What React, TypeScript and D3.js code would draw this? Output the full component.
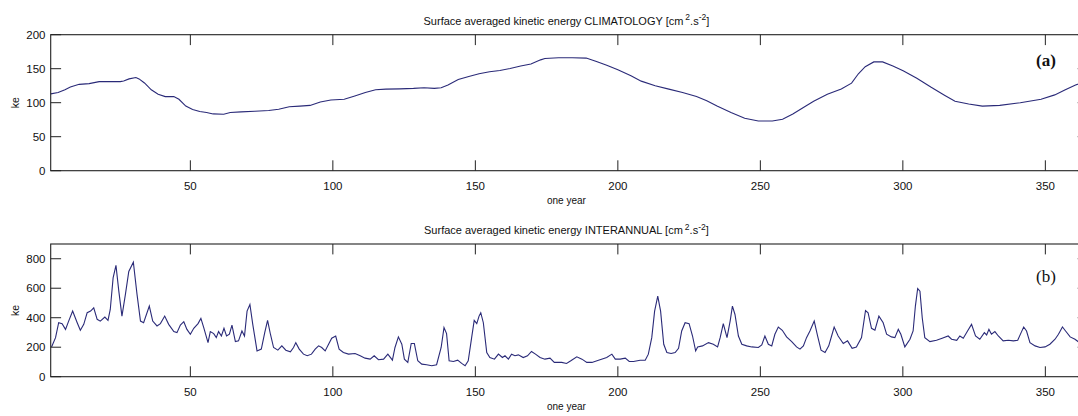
import React from "react";
import * as d3 from "d3";

// ---------- data ----------
const dayA = [1, 3.6, 6, 7.9, 11, 14.5, 18, 25.4, 26.6, 28.5, 30.9, 32, 33.9, 36.3, 38.7, 41.2, 44.2, 46, 48.4, 50.8, 53.3, 55.7, 58, 61.7, 64, 67.8, 72.6, 77.5, 81, 84.7, 88.4, 92, 95.6, 99.3, 104, 107.7, 111.4, 115, 118.6, 123.5, 128.3, 132, 135.6, 138, 140.4, 144, 147.7, 151.3, 155, 158.6, 162.2, 165.9, 169.5, 172.9, 174.4, 179.2, 184, 188.9, 192.5, 196.1, 200, 204.6, 208.2, 213.1, 217.9, 222.7, 227.6, 231.2, 234.8, 239.7, 244.5, 249.3, 254.2, 257.8, 261.4, 265.1, 268.7, 273.5, 278.4, 282, 284.4, 286.8, 289.8, 292.9, 296.5, 300.1, 304.9, 309.8, 314.6, 318.3, 323.1, 327.9, 334, 341.2, 348.5, 353.3, 357, 360.6, 363, 365];
const keClim = [113, 115, 119, 123, 127, 128, 131, 131, 132, 135, 137, 135, 129, 119, 112.5, 109, 109, 105, 95, 90, 87, 85.5, 83.5, 83, 85.5, 86.5, 87.5, 88.5, 90.4, 94, 95, 96, 101, 104, 105, 110, 115, 119, 120, 120.4, 121, 122, 121, 122, 126, 134, 138.6, 142.5, 145.5, 147.4, 150.4, 154, 157, 163, 165, 166, 166, 165.6, 160.7, 155, 148.4, 139.6, 131.7, 124.8, 120, 115, 109, 103, 95, 85.5, 77, 73, 73, 75.7, 83.5, 93, 102, 112.5, 120, 128.7, 142.5, 153, 160, 160, 154, 147, 136, 123, 111, 102, 98, 95, 96, 100, 105, 111.5, 119, 126, 130, 135];

const dayB = [1.3, 2.7, 3.8, 5, 6.2, 7.3, 8.7, 10.3, 11.4, 12.6, 13.8, 15, 16.1, 17.3, 18.4, 20, 21.1, 21.9, 22.9, 23.9, 24.9, 26, 27.2, 28.4, 30, 31.3, 32.5, 33.6, 35.6, 36.8, 38.3, 39.5, 41, 42.4, 44.2, 45.3, 46.5, 47.7, 48.8, 50, 51.2, 52.7, 53.7, 54.7, 56.2, 57, 58.2, 59.1, 59.9, 60.9, 61.8, 62.7, 63.7, 64.6, 65.8, 66.9, 68.1, 69, 69.9, 70.9, 71.9, 73.4, 74.9, 76.1, 77.1, 78.1, 79.2, 80.7, 82.1, 83.5, 85.1, 86.2, 87, 88.2, 89.7, 91, 92.5, 93.8, 95, 96.1, 97.3, 98.5, 99.6, 101, 102.2, 103.7, 105.5, 107.8, 109.6, 111.3, 113.1, 114.5, 116, 117.8, 119.3, 120.9, 121.8, 123, 124.2, 125.1, 126.3, 127.5, 128.6, 129.8, 131.2, 132.9, 134.7, 136.4, 138, 139, 139.9, 140.8, 142.3, 143.8, 145.2, 146.4, 147.5, 148.7, 149.6, 150.5, 151.3, 151.9, 152.8, 154, 155.1, 156.7, 158.1, 159.5, 160.4, 161.6, 162.7, 163.9, 165.1, 166.8, 168.3, 169.7, 171.1, 172.7, 174.4, 176.2, 177.7, 180.3, 182, 183.5, 185.6, 187.4, 189.1, 190.9, 193.2, 196.1, 197.9, 199.1, 200.8, 202.6, 204, 205.5, 207.8, 209.6, 210.7, 211.9, 212.9, 214, 215, 216.1, 217.2, 218.7, 220.1, 221.3, 222.4, 223.6, 225, 226.2, 227.3, 228, 229.7, 231.8, 233.5, 235, 235.9, 237, 238.3, 239.4, 240.2, 241.1, 242.3, 243.5, 245.2, 247, 249.3, 250.5, 251.6, 252.8, 254, 255.1, 256.3, 257.7, 259.2, 261, 262.7, 263.9, 265.1, 266.2, 267.4, 268.9, 270.1, 271.3, 272.7, 274, 275, 275.9, 277.3, 279.1, 280.6, 282.2, 283.7, 285.5, 286.9, 287.8, 289, 290.2, 291.6, 293.1, 294.3, 296, 297.2, 298.4, 299.3, 300.7, 302.5, 303.6, 304.4, 305.2, 306, 306.8, 307.7, 309.5, 311.8, 313.8, 315.9, 317.1, 318.9, 320, 321.2, 322.7, 324.1, 325.5, 327, 328.6, 329.4, 330.2, 331.1, 332.3, 333.5, 335.2, 337, 338.8, 340.3, 341.5, 342.4, 343.4, 344.6, 346.4, 348.1, 349.9, 351.6, 353.4, 354.6, 356, 357.1, 358.7, 360.4, 361.5, 363, 365];
const keInter = [202, 265, 366, 360, 321, 377, 445, 366, 315, 355, 434, 445, 467, 389, 377, 404, 382, 456, 670, 755, 580, 411, 557, 714, 777, 557, 377, 366, 479, 377, 344, 360, 411, 355, 306, 299, 350, 373, 321, 288, 328, 360, 395, 333, 231, 306, 292, 265, 306, 276, 328, 276, 288, 350, 238, 243, 310, 276, 445, 490, 355, 175, 187, 299, 382, 288, 198, 180, 209, 180, 169, 198, 231, 187, 153, 142, 153, 187, 209, 198, 175, 220, 261, 276, 187, 164, 153, 157, 142, 126, 119, 142, 115, 119, 153, 112, 198, 270, 220, 119, 97, 225, 225, 108, 85, 81, 74, 81, 198, 333, 292, 108, 103, 112, 90, 74, 108, 265, 382, 360, 411, 434, 366, 164, 130, 119, 153, 130, 142, 119, 153, 142, 148, 130, 142, 171, 153, 130, 119, 126, 97, 97, 90, 108, 135, 119, 97, 97, 112, 130, 153, 119, 119, 126, 103, 103, 112, 112, 153, 265, 445, 546, 445, 220, 164, 157, 164, 193, 310, 366, 360, 276, 175, 202, 209, 231, 220, 202, 265, 360, 265, 377, 479, 422, 276, 220, 209, 202, 198, 216, 276, 220, 209, 288, 337, 315, 270, 238, 202, 187, 209, 265, 310, 377, 276, 180, 164, 209, 276, 337, 276, 225, 243, 193, 202, 265, 449, 434, 328, 315, 411, 366, 288, 270, 265, 321, 288, 202, 254, 310, 479, 598, 580, 400, 265, 238, 247, 261, 276, 254, 247, 276, 261, 310, 355, 276, 254, 299, 283, 321, 288, 306, 276, 243, 247, 243, 247, 299, 337, 310, 231, 209, 198, 202, 220, 254, 288, 337, 310, 270, 254, 238, 240, 235];

const xTicks = [50, 100, 150, 200, 250, 300, 350];
const yTicksA = [0, 50, 100, 150, 200];
const yTicksB = [0, 200, 400, 600, 800];

const titleA = "Surface averaged kinetic energy CLIMATOLOGY";
const titleB = "Surface averaged kinetic energy INTERANNUAL";
const xLabel = "one year";
const yLabel = "ke";

// ---------- layout ----------
const W = 1078;
const H = 416;
const LEFT = 50.7;
const RIGHT = 1088.1;
const TICK = 10.4;
const LINE_COLOR = "#2a2a78";
const FONT = "'Liberation Sans', Arial, sans-serif";

const x = d3.scaleLinear().domain([1, 365]).range([LEFT, RIGHT]);

type PanelProps = {
  days: number[];
  values: number[];
  yMax: number;
  yTicks: number[];
  top: number;
  bottom: number;
  title: string;
  titleY: number;
  tag: string;
  tagBold: boolean;
  tagY: number;
};

function Panel(p: PanelProps) {
  const y = d3.scaleLinear().domain([0, p.yMax]).range([p.bottom, p.top]);
  const line = d3
    .line<number>()
    .x((_, i) => x(p.days[i]))
    .y((v) => y(v));
  const pathD = line(p.values) || "";
  const cx = (LEFT + RIGHT) / 2 - 3;
  return (
    <g>
      {/* title */}
      <text x={cx} y={p.titleY} fontSize={11} fontFamily={FONT} textAnchor="middle" fill="#111">
        {p.title} [cm
        <tspan dx={2} dy={-4.5} fontSize={8.5}>2</tspan>
        <tspan dy={4.5}>.s</tspan>
        <tspan dy={-4.5} fontSize={8.5}>-2</tspan>
        <tspan dy={4.5}>]</tspan>
      </text>
      {/* data line */}
      <path d={pathD} fill="none" stroke={LINE_COLOR} strokeWidth={1.1} />
      {/* box */}
      <rect x={LEFT} y={p.top} width={RIGHT - LEFT} height={p.bottom - p.top} fill="none" stroke="#222" strokeWidth={1.1} />
      {/* x ticks */}
      {xTicks.map((t) => (
        <g key={"x" + t}>
          <line x1={x(t)} x2={x(t)} y1={p.bottom} y2={p.bottom - TICK} stroke="#222" strokeWidth={1} />
          <line x1={x(t)} x2={x(t)} y1={p.top} y2={p.top + TICK} stroke="#222" strokeWidth={1} />
          <text x={x(t)} y={p.bottom + 19.5} fontSize={11.5} fontFamily={FONT} textAnchor="middle" fill="#111">
            {t}
          </text>
        </g>
      ))}
      {/* y ticks */}
      {p.yTicks.map((t) => (
        <g key={"y" + t}>
          <line x1={LEFT} x2={LEFT + TICK} y1={y(t)} y2={y(t)} stroke="#222" strokeWidth={1} />
          <line x1={RIGHT} x2={RIGHT - TICK} y1={y(t)} y2={y(t)} stroke="#222" strokeWidth={1} />
          <text x={45.5} y={y(t) + 4} fontSize={11.5} fontFamily={FONT} textAnchor="end" fill="#111">
            {t}
          </text>
        </g>
      ))}
      {/* labels */}
      <text x={cx} y={p.bottom + 33.5} fontSize={10} fontFamily={FONT} textAnchor="middle" fill="#111">
        {xLabel}
      </text>
      <text
        transform={`translate(18.5,${(p.top + p.bottom) / 2}) rotate(-90)`}
        fontSize={10.5}
        fontFamily={FONT}
        textAnchor="middle"
        fill="#111"
      >
        {yLabel}
      </text>
      <text
        x={1046}
        y={p.tagY}
        fontSize={17}
        fontWeight={p.tagBold ? "bold" : "normal"}
        fontFamily="'Liberation Serif', 'DejaVu Serif', serif"
        textAnchor="middle"
        fill="#111"
      >
        {p.tag}
      </text>
    </g>
  );
}

export default function App() {
  return (
    <svg
      width={W}
      height={H}
      viewBox={`0 0 ${W} ${H}`}
      style={{ position: "absolute", left: 0, top: 0, background: "#fff", overflow: "hidden" }}
    >
      <rect x={0} y={0} width={W} height={H} fill="#fff" />
      <Panel
        days={dayA}
        values={keClim}
        yMax={200}
        yTicks={yTicksA}
        top={34.7}
        bottom={170.7}
        title={titleA}
        titleY={24.5}
        tag="(a)"
        tagBold={true}
        tagY={66}
      />
      <Panel
        days={dayB}
        values={keInter}
        yMax={900}
        yTicks={yTicksB}
        top={244}
        bottom={376.7}
        title={titleB}
        titleY={234}
        tag="(b)"
        tagBold={false}
        tagY={282}
      />
    </svg>
  );
}
